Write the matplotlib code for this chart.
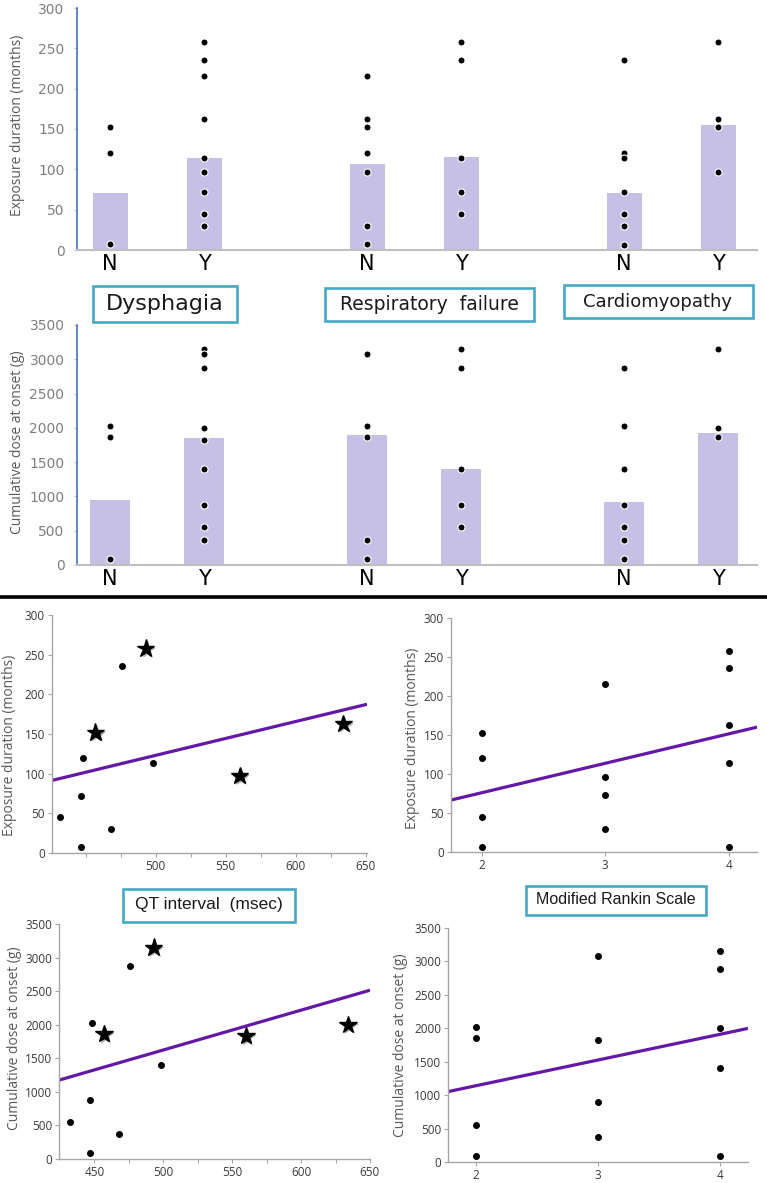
import numpy as np
import matplotlib
matplotlib.use('Agg')
import matplotlib.pyplot as plt
import matplotlib.patheffects as pe
from matplotlib.patches import Rectangle
from matplotlib.lines import Line2D

W, H = 767, 1183

# --- top: bar panels (N / Y for each condition) ---
conditions = ['Dysphagia', 'Respiratory  failure', 'Cardiomyopathy']
groups = ['N', 'Y']
exp_bars = [71, 114, 107, 115, 71, 155]
dose_bars = [950, 1850, 1900, 1400, 920, 1930]
exp_points = [[152, 120, 7],
              [258, 236, 216, 163, 114, 97, 72, 45, 30],
              [216, 163, 152, 120, 97, 30, 7],
              [258, 236, 114, 72, 45],
              [236, 120, 114, 72, 45, 30, 6],
              [258, 163, 152, 97]]
dose_points = [[2020, 1860, 90],
               [3150, 3080, 2880, 2000, 1830, 1400, 880, 560, 370],
               [3080, 2020, 1860, 370, 90],
               [3150, 2880, 1400, 880, 560],
               [2880, 2020, 1400, 880, 560, 370, 90],
               [3150, 2000, 1860]]

# --- bottom: scatter panels ---
qt_exp_x = [432, 448, 447, 447, 468, 476, 498]
qt_exp_y = [45, 120, 72, 7, 30, 236, 114]
qt_exp_star_x = [457, 493, 560, 634]
qt_exp_star_y = [152, 258, 97, 163]

qt_dose_x = [432, 447, 448, 447, 468, 476, 498]
qt_dose_y = [550, 880, 2020, 90, 370, 2880, 1400]
qt_dose_star_x = [457, 493, 560, 634]
qt_dose_star_y = [1860, 3150, 1830, 2000]

mrs_exp_x = [2, 2, 2, 2, 3, 3, 3, 3, 4, 4, 4, 4, 4]
mrs_exp_y = [152, 120, 45, 7, 216, 96, 73, 30, 258, 236, 163, 114, 6]
mrs_dose_x = [2, 2, 2, 2, 3, 3, 3, 3, 4, 4, 4, 4, 4]
mrs_dose_y = [2020, 1860, 560, 90, 3080, 1830, 890, 370, 3150, 2880, 2000, 1400, 85]

BAR = '#C6BFE6'
BOX = '#45A9C5'
LINE = '#6418A8'
GRAY = '#A6A6A6'

fig = plt.figure(figsize=(W / 100, H / 100), dpi=100)


def px_axes(x0, y0, x1, y1):
    return fig.add_axes([x0 / W, 1 - y1 / H, (x1 - x0) / W, (y1 - y0) / H])


def box(cx, cy, w, h, text, size, family='DejaVu Sans'):
    fig.add_artist(Rectangle(((cx - w / 2) / W, 1 - (cy + h / 2) / H), w / W, h / H,
                             transform=fig.transFigure, fill=False, ec=BOX, lw=1.9))
    fig.text(cx / W, 1 - cy / H, text, ha='center', va='center', fontsize=size,
             family=family, color='#1a1a1a')


def bar_panel(ax, bars, points, ymax, step, width):
    pos = [110 + (i // 2) * 257 + (i % 2) * 94 for i in range(6)]
    ax.bar(pos, bars, width=width, color=BAR, zorder=1)
    for p, vals in zip(pos, points):
        ax.scatter([p] * len(vals), vals, s=26, c='black', edgecolors='white',
                   linewidths=0.8, zorder=3)
    ax.set_xlim(77, 757)
    ax.set_ylim(0, ymax)
    ax.set_yticks(np.arange(0, ymax + 1, step))
    ax.set_xticks(pos)
    ax.set_xticklabels(groups * 3, fontsize=15, family='DejaVu Sans')
    ax.tick_params(axis='x', length=0, pad=3)
    ax.tick_params(axis='y', length=2, color='#BFBFBF', labelsize=10,
                   labelcolor='#7F7F7F', pad=7)
    for s in ['top', 'right']:
        ax.spines[s].set_visible(False)
    ax.spines['left'].set_color('#4472C4')
    ax.spines['left'].set_linewidth(1.2)
    ax.spines['bottom'].set_color('#BFBFBF')
    ax.spines['bottom'].set_linewidth(1.5)
    ax.patch.set_alpha(0)


ax1 = px_axes(77, 8, 757, 250)
bar_panel(ax1, exp_bars, exp_points, 300, 50, 35)
fig.text(18 / W, 1 - 125 / H, 'Exposure duration (months)', rotation=90, ha='center',
         va='center', fontsize=10, color='#595959', family='Open Sans')

ax2 = px_axes(77, 325, 757, 565)
bar_panel(ax2, dose_bars, dose_points, 3500, 500, 40)
fig.text(18 / W, 1 - 442 / H, 'Cumulative dose at onset (g)', rotation=90, ha='center',
         va='center', fontsize=10, color='#595959', family='Open Sans')

box(165, 304, 144, 35, conditions[0], 16)
box(429, 304, 209, 33, conditions[1], 13.5)
box(658, 302, 189, 33, conditions[2], 13)

fig.add_artist(Line2D([0, 1], [1 - 597 / H] * 2, color='black', lw=2.6,
                      transform=fig.transFigure))


def scatter_panel(ax, x, y, sx, sy, xlim, ylim, yticks, xticks, xlabels):
    allx = np.array(list(x) + list(sx), float)
    ally = np.array(list(y) + list(sy), float)
    k, b = np.polyfit(allx, ally, 1)
    xl = np.array(xlim)
    ax.plot(xl, k * xl + b, color=LINE, lw=2.3, zorder=2, solid_capstyle='butt')
    ax.scatter(x, y, s=16, c='black', zorder=3)
    if len(sx):
        ax.plot(sx, sy, '*', ms=13, color='black', zorder=4, ls='none',
                path_effects=[pe.withSimplePatchShadow(offset=(1.5, -1.5),
                                                      shadow_rgbFace='#7a7a7a', alpha=0.6)])
    ax.set_xlim(*xlim)
    ax.set_ylim(*ylim)
    ax.set_yticks(yticks)
    ax.set_xticks(xticks)
    ax.set_xticklabels(xlabels)
    for s in ['top', 'right']:
        ax.spines[s].set_visible(False)
    for s in ['left', 'bottom']:
        ax.spines[s].set_color(GRAY)
        ax.spines[s].set_linewidth(1)
    ax.tick_params(length=3, color=GRAY, labelsize=8.5, labelcolor='#3a3a3a', pad=2)
    for lab in ax.get_xticklabels() + ax.get_yticklabels():
        lab.set_family('Open Sans')
    ax.patch.set_alpha(0)


qt_ticks = np.arange(450, 651, 25)
qt_lab_top = ['' if (t % 50 or t == 450) else str(t) for t in qt_ticks]
qt_lab_bot = ['' if t % 50 else str(t) for t in qt_ticks]

ax3 = px_axes(52, 615, 367, 853)
scatter_panel(ax3, qt_exp_x, qt_exp_y, qt_exp_star_x, qt_exp_star_y, (426, 651), (0, 300),
              np.arange(0, 301, 50), qt_ticks, qt_lab_top)
fig.text(10 / W, 1 - 745 / H, 'Exposure duration (months)', rotation=90, ha='center',
         va='center', fontsize=10, color='#595959', family='Open Sans')

ax4 = px_axes(451, 618, 757, 852)
scatter_panel(ax4, mrs_exp_x, mrs_exp_y, [], [], (1.75, 4.23), (0, 300),
              np.arange(0, 301, 50), [2, 3, 4], ['2', '3', '4'])
fig.text(413 / W, 1 - 738 / H, 'Exposure duration (months)', rotation=90, ha='center',
         va='center', fontsize=10, color='#595959', family='Open Sans')

ax5 = px_axes(59, 924, 370, 1159)
scatter_panel(ax5, qt_dose_x, qt_dose_y, qt_dose_star_x, qt_dose_star_y, (424.3, 650), (0, 3500),
              np.arange(0, 3501, 500), qt_ticks, qt_lab_bot)
fig.text(15 / W, 1 - 1038 / H, 'Cumulative dose at onset (g)', rotation=90, ha='center',
         va='center', fontsize=10, color='#595959', family='Open Sans')

ax6 = px_axes(448, 928, 748, 1162)
scatter_panel(ax6, mrs_dose_x, mrs_dose_y, [], [], (1.77, 4.23), (0, 3500),
              np.arange(0, 3501, 500), [2, 3, 4], ['2', '3', '4'])
fig.text(401 / W, 1 - 1045 / H, 'Cumulative dose at onset (g)', rotation=90, ha='center',
         va='center', fontsize=10, color='#595959', family='Open Sans')

box(209, 905, 172, 33, 'QT interval  (msec)', 12.5, 'Liberation Sans')
box(616, 900, 180, 29, 'Modified Rankin Scale', 11.5, 'Liberation Sans')

fig.savefig('out.png', dpi=100)
